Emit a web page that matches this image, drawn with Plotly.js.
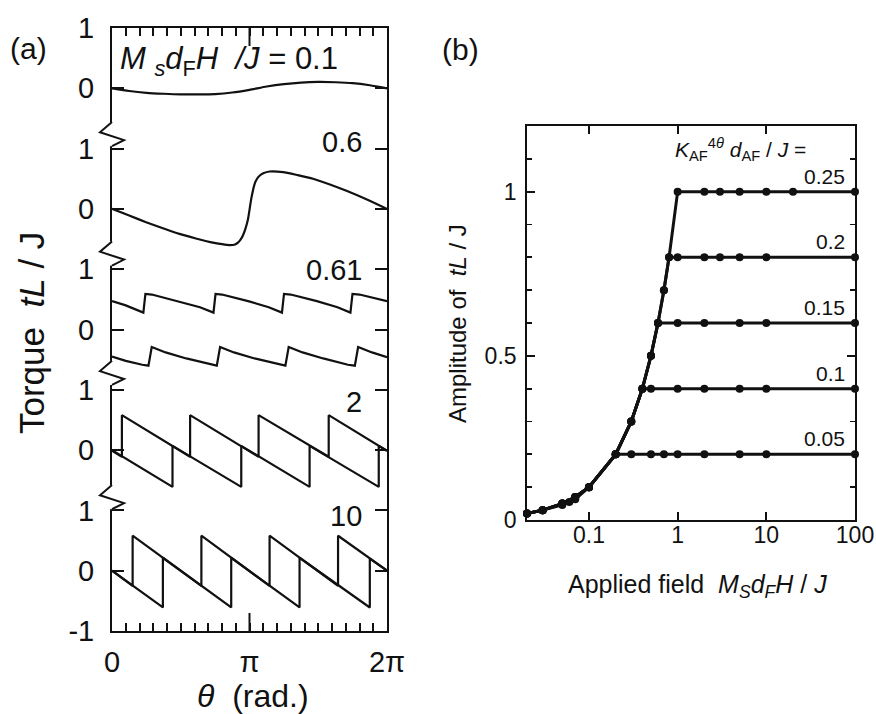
<!DOCTYPE html>
<html>
<head>
<meta charset="utf-8">
<script src="https://cdn.plot.ly/plotly-3.0.1.min.js"></script>
<style>
  html, body { margin: 0; padding: 0; background: #fff; }
  #chart { width: 876px; height: 714px; }
</style>
</head>
<body>
<div id="chart"></div>
<script>
// ---------- (a) torque curves, theta given in units of pi ----------
// M_s d_F H / J = 0.1
const theta01 = [0, 0.125, 0.25, 0.375, 0.5, 0.625, 0.75, 0.875, 1, 1.125, 1.25, 1.375, 1.5, 1.625, 1.75, 1.875, 2];
const torque01 = [0, -0.045, -0.075, -0.09, -0.1, -0.1, -0.095, -0.07, -0.025, 0.03, 0.07, 0.095, 0.105, 0.1, 0.085, 0.05, 0];

// 0.6
const theta06 = [0, 0.125, 0.248, 0.37, 0.49, 0.61, 0.734, 0.8, 0.855, 0.895, 0.916, 0.935, 0.952, 0.97, 0.989, 1.013, 1.037, 1.055, 1.073, 1.1, 1.146, 1.244, 1.35, 1.462, 1.58, 1.705, 1.85, 2];
const torque06 = [0, -0.11, -0.22, -0.32, -0.415, -0.49, -0.56, -0.585, -0.6, -0.59, -0.56, -0.51, -0.44, -0.33, -0.17, 0.17, 0.41, 0.5, 0.55, 0.59, 0.62, 0.61, 0.56, 0.5, 0.41, 0.3, 0.16, 0];

// 0.61 : two branches
const theta061Up = [0, 0.1, 0.228, 0.243, 0.29, 0.48, 0.64, 0.738, 0.753, 0.8, 0.99, 1.14, 1.236, 1.251, 1.3, 1.49, 1.64, 1.734, 1.749, 1.8, 2];
const torque061Up = [0.47, 0.4, 0.28, 0.59, 0.58, 0.47, 0.37, 0.28, 0.59, 0.58, 0.47, 0.37, 0.28, 0.59, 0.58, 0.47, 0.37, 0.28, 0.59, 0.58, 0.47];
const theta061Down = [0, 0.1, 0.22, 0.265, 0.289, 0.39, 0.54, 0.72, 0.762, 0.786, 0.887, 1.037, 1.217, 1.261, 1.285, 1.386, 1.536, 1.716, 1.766, 1.79, 1.891, 2];
const torque061Down = [-0.45, -0.52, -0.585, -0.6, -0.29, -0.38, -0.48, -0.585, -0.6, -0.29, -0.38, -0.48, -0.585, -0.6, -0.29, -0.38, -0.48, -0.585, -0.6, -0.29, -0.38, -0.46];

// 2 : increasing / decreasing theta
const theta2Fwd = [0, 0.44, 0.44, 0.94, 0.94, 1.437, 1.437, 1.94, 1.94, 2];
const torque2Fwd = [0, -0.61, 0.07, -0.61, 0.07, -0.61, 0.07, -0.61, 0.07, -0.01];
const theta2Bwd = [0, 0.072, 0.072, 0.568, 0.568, 1.066, 1.066, 1.576, 1.576, 2];
const torque2Bwd = [-0.01, -0.11, 0.58, -0.11, 0.58, -0.11, 0.58, -0.11, 0.58, -0.01];

// 10 : increasing / decreasing theta
const theta10Fwd = [0, 0.37, 0.37, 0.867, 0.867, 1.364, 1.364, 1.875, 1.875, 2];
const torque10Fwd = [0, -0.61, 0.215, -0.61, 0.215, -0.61, 0.215, -0.61, 0.2, 0];
const theta10Bwd = [0, 0.15, 0.15, 0.65, 0.65, 1.146, 1.146, 1.644, 1.644, 2];
const torque10Bwd = [0, -0.25, 0.58, -0.25, 0.58, -0.25, 0.58, -0.25, 0.58, 0];

const fieldLabelsA = ['0.1', '0.6', '0.61', '2', '10'];

// ---------- (b) amplitude vs applied field ----------
const kLabels = ['0.25', '0.2', '0.15', '0.1', '0.05'];
const fieldK025 = [0.02, 0.03, 0.05, 0.07, 0.1, 0.2, 0.3, 0.4, 0.5, 0.6, 0.7, 0.8, 1, 2, 3, 5, 10, 20, 100];
const ampK025   = [0.02, 0.03, 0.05, 0.07, 0.1, 0.2, 0.3, 0.4, 0.5, 0.6, 0.7, 0.8, 1, 1, 1, 1, 1, 1, 1];
const fieldK020 = [0.02, 0.03, 0.05, 0.07, 0.1, 0.2, 0.3, 0.4, 0.5, 0.6, 0.7, 0.8, 1, 2, 3, 5, 10, 100];
const ampK020   = [0.02, 0.03, 0.05, 0.07, 0.1, 0.2, 0.3, 0.4, 0.5, 0.6, 0.7, 0.8, 0.8, 0.8, 0.8, 0.8, 0.8, 0.8];
const fieldK015 = [0.02, 0.03, 0.05, 0.07, 0.1, 0.2, 0.3, 0.4, 0.5, 0.6, 1, 2, 5, 10, 100];
const ampK015   = [0.02, 0.03, 0.05, 0.07, 0.1, 0.2, 0.3, 0.4, 0.5, 0.6, 0.6, 0.6, 0.6, 0.6, 0.6];
const fieldK010 = [0.02, 0.03, 0.05, 0.07, 0.1, 0.2, 0.3, 0.4, 0.5, 1, 2, 5, 10, 100];
const ampK010   = [0.02, 0.03, 0.05, 0.07, 0.1, 0.2, 0.3, 0.4, 0.4, 0.4, 0.4, 0.4, 0.4, 0.4];
const fieldK005 = [0.02, 0.03, 0.05, 0.06, 0.07, 0.1, 0.2, 0.3, 0.5, 0.7, 1, 2, 5, 10, 100];
const ampK005   = [0.02, 0.03, 0.046, 0.055, 0.063, 0.1, 0.2, 0.2, 0.2, 0.2, 0.2, 0.2, 0.2, 0.2, 0.2];
const ampLevels = [1, 0.8, 0.6, 0.4, 0.2];

// ---------- build ----------
const PI = Math.PI;
const INK = '#111';
const toRad = arr => arr.map(t => t * PI);
// each torque panel is stacked 2 units above the one below it
const stack = (arr, shift) => arr.map(v => v + shift);

const curvesA = [
  {t: theta01, q: torque01, shift: 8, shape: 'spline'},
  {t: theta06, q: torque06, shift: 6, shape: 'spline'},
  {t: theta061Up, q: torque061Up, shift: 4, shape: 'linear'},
  {t: theta061Down, q: torque061Down, shift: 4, shape: 'linear'},
  {t: theta2Fwd, q: torque2Fwd, shift: 2, shape: 'linear'},
  {t: theta2Bwd, q: torque2Bwd, shift: 2, shape: 'linear'},
  {t: theta10Fwd, q: torque10Fwd, shift: 0, shape: 'linear'},
  {t: theta10Bwd, q: torque10Bwd, shift: 0, shape: 'linear'}
];

const traces = curvesA.map(c => ({
  type: 'scatter', mode: 'lines',
  x: toRad(c.t), y: stack(c.q, c.shift),
  xaxis: 'x', yaxis: 'y',
  line: {color: INK, width: 2.2, shape: c.shape, smoothing: 0.6},
  hoverinfo: 'skip'
}));

const seriesB = [
  [fieldK025, ampK025], [fieldK020, ampK020], [fieldK015, ampK015],
  [fieldK010, ampK010], [fieldK005, ampK005]
];
seriesB.forEach(([f, a]) => traces.push({
  type: 'scatter', mode: 'lines+markers',
  x: f, y: a, xaxis: 'x2', yaxis: 'y2',
  line: {color: INK, width: 3},
  marker: {color: INK, size: 8},
  cliponaxis: false,
  hoverinfo: 'skip'
}));

// y ticks of (a): every panel shows its own 0 and 1
const yTickVals = [-1, 0, 1, 2, 3, 4, 5, 6, 7, 8, 9];
const yTickText = ['-1', '0', '1', '0', '1', '0', '1', '0', '1', '0', '1'];

// x ticks of (a): every pi/10, labelled at 0, pi, 2pi
const xTickVals = [], xTickText = [];
for (let k = 0; k <= 20; k++) {
  xTickVals.push(k * PI / 10);
  xTickText.push(k === 0 ? '0' : k === 10 ? 'π' : k === 20 ? '2π' : '');
}

const W = 876, H = 714;
const axA = {x0: 112, x1: 387, y0: 28, y1: 631};
const axB = {x0: 527, x1: 855, y0: 126, y1: 520};

const annotations = [];
const txt = (o) => annotations.push(Object.assign({showarrow: false, font: {size: 29, color: INK}}, o));

txt({xref: 'paper', yref: 'paper', x: 8 / W, y: 1 - 49 / H, xanchor: 'left', yanchor: 'middle', text: '(a)', font: {size: 30, color: INK}});
txt({xref: 'paper', yref: 'paper', x: 440 / W, y: 1 - 50 / H, xanchor: 'left', yanchor: 'middle', text: '(b)', font: {size: 30, color: INK}});

// field labels of (a)
txt({xref: 'paper', yref: 'y', x: 118 / W, y: 8.45, xanchor: 'left', yanchor: 'middle',
     font: {size: 31, color: INK},
     text: '<i>M</i> <sub><i>s</i></sub><i>d</i><sub>F</sub><i>H</i>  <i>/J</i> = ' + fieldLabelsA[0]});
const labelY = [7.11, 4.99, 2.8, 0.91];
for (let i = 1; i < fieldLabelsA.length; i++) {
  txt({xref: 'x', yref: 'y', x: 1.832 * PI, y: labelY[i - 1], xanchor: 'right', yanchor: 'middle', text: fieldLabelsA[i]});
}

// axis titles
txt({xref: 'paper', yref: 'paper', x: 31 / W, y: 1 - 333 / H, textangle: -90, xanchor: 'center', yanchor: 'middle',
     font: {size: 35, color: INK}, text: 'Torque  <i>tL</i> / J'});
txt({xref: 'paper', yref: 'paper', x: 253 / W, y: 1 - 696 / H, xanchor: 'center', yanchor: 'middle',
     font: {size: 32, color: INK}, text: '<i>θ</i>  (rad.)'});
txt({xref: 'paper', yref: 'paper', x: 458 / W, y: 1 - 324 / H, textangle: -90, xanchor: 'center', yanchor: 'middle',
     font: {size: 24, color: INK}, text: 'Amplitude of  <i>tL</i> / J'});
txt({xref: 'paper', yref: 'paper', x: 697 / W, y: 1 - 586 / H, xanchor: 'center', yanchor: 'middle',
     font: {size: 25, color: INK}, text: 'Applied field  <i>M<sub>S</sub>d<sub>F</sub>H</i> / <i>J</i>'});

// (b) series labels
txt({xref: 'x2', yref: 'y2', x: -0.05, y: 1.127, xanchor: 'left', yanchor: 'middle',
     font: {size: 21, color: INK},
     text: '<i>K</i><sub>AF</sub><sup>4<i>θ</i></sup> <i>d</i><sub>AF</sub> / <i>J</i> ='});
kLabels.forEach((k, i) => txt({xref: 'x2', yref: 'y2', x: 1.91, y: ampLevels[i] + 0.047,
  xanchor: 'right', yanchor: 'middle', font: {size: 21, color: INK}, text: k}));

const shapes = [];
// longer tick at pi on the bottom and top edges of (a)
const longTick = 18 / (axA.y1 - axA.y0);
[[0, longTick], [1 - longTick, 1]].forEach(([a, b]) => shapes.push({
  type: 'line', xref: 'x', yref: 'y domain', x0: PI, x1: PI, y0: a, y1: b,
  line: {color: INK, width: 2}
}));

// axis breaks on the left spine of (a)
const breaks = [1.22, 3.28, 5.26, 7.24];
const ax0 = axA.x0 / W, dz = 12 / W, cover = 3 / W;
breaks.forEach(c => {
  shapes.push({type: 'rect', xref: 'paper', yref: 'y', layer: 'above',
    x0: ax0 - cover, x1: ax0 + cover, y0: c - 0.2, y1: c + 0.2,
    fillcolor: '#fff', line: {width: 0}});
  shapes.push({type: 'path', xref: 'paper', yref: 'y', layer: 'above',
    path: `M ${ax0} ${c + 0.2} L ${ax0 - dz} ${c + 0.03} L ${ax0 + dz} ${c - 0.1} L ${ax0} ${c - 0.2}`,
    line: {color: INK, width: 2}});
});

const common = {showline: true, linecolor: INK, mirror: 'allticks', ticks: 'inside',
  tickcolor: INK, showgrid: false, zeroline: false, fixedrange: true};

const layout = {
  width: W, height: H,
  margin: {l: 0, r: 0, t: 0, b: 0},
  paper_bgcolor: '#fff', plot_bgcolor: '#fff',
  font: {family: 'Liberation Sans, Arial, sans-serif', color: INK},
  showlegend: false,
  xaxis: Object.assign({}, common, {
    anchor: 'y', domain: [axA.x0 / W, axA.x1 / W], range: [0, 2 * PI],
    linewidth: 2, tickwidth: 2, ticklen: 8,
    tickmode: 'array', tickvals: xTickVals, ticktext: xTickText,
    tickfont: {size: 29}, ticklabelstandoff: 4
  }),
  yaxis: Object.assign({}, common, {
    anchor: 'x', domain: [1 - axA.y1 / H, 1 - axA.y0 / H], range: [-1, 9],
    linewidth: 2, tickwidth: 2, ticklen: 12,
    tickmode: 'array', tickvals: yTickVals, ticktext: yTickText,
    tickfont: {size: 29}, ticklabelstandoff: 10
  }),
  xaxis2: Object.assign({}, common, {
    anchor: 'y2', type: 'log', domain: [axB.x0 / W, axB.x1 / W], range: [Math.log10(0.02), 2],
    linewidth: 1.8, tickwidth: 1.8, ticklen: 8,
    tickmode: 'array', tickvals: [0.1, 1, 10, 100], ticktext: ['0.1', '1', '10', '100'],
    tickfont: {size: 23}, ticklabelstandoff: -6
  }),
  yaxis2: Object.assign({}, common, {
    anchor: 'x2', domain: [1 - axB.y1 / H, 1 - axB.y0 / H], range: [0, 1.2],
    linewidth: 1.8, tickwidth: 1.8, ticklen: 8,
    tickmode: 'linear', tick0: 0, dtick: 0.5,
    tickfont: {size: 23}, ticklabelstandoff: 4,
    minor: {tickmode: 'linear', tick0: 0, dtick: 0.1, ticks: 'inside', ticklen: 5, tickwidth: 1.8, tickcolor: INK}
  }),
  annotations: annotations,
  shapes: shapes
};

Plotly.newPlot('chart', traces, layout, {staticPlot: true, displayModeBar: false});
</script>
</body>
</html>
